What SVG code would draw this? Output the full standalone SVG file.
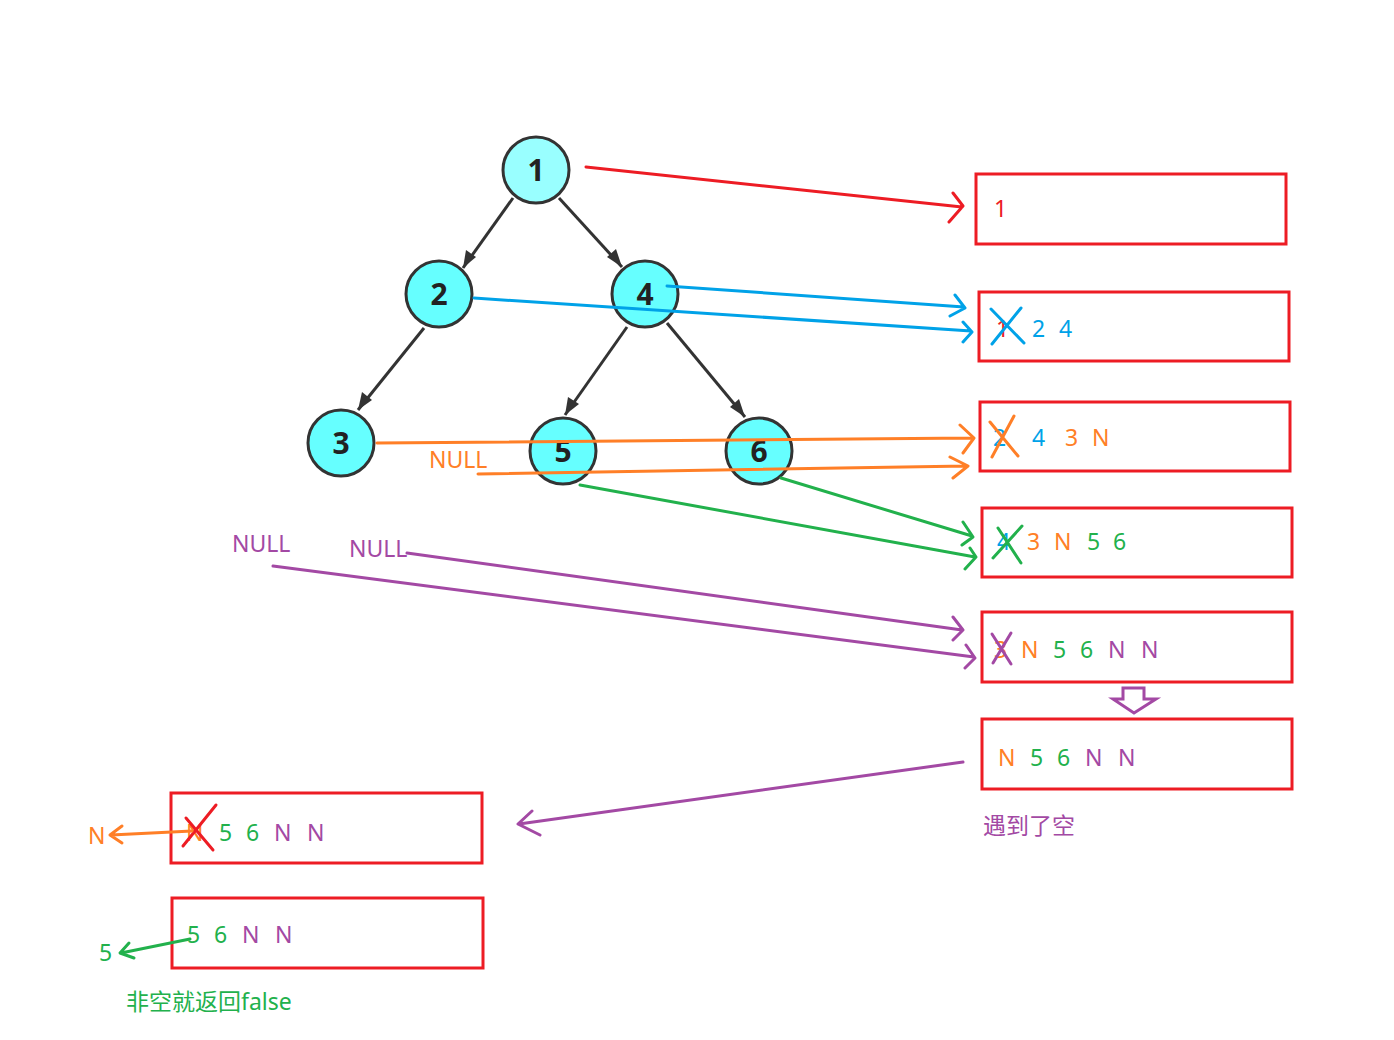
<svg xmlns="http://www.w3.org/2000/svg" width="1394" height="1040" viewBox="0 0 1394 1040">
<style>
.n{fill:#66ffff;stroke:#333;stroke-width:3}
.nt{font-family:"Open Sans","Noto Sans",sans-serif;font-weight:bold;font-size:30px;fill:#222;text-anchor:middle}
.e{stroke:#333;stroke-width:3;fill:none}
.ah{fill:#333}
.box{fill:none;stroke:#ed1c24;stroke-width:3}
.t{font-family:"Noto Sans","Noto Sans CJK SC",sans-serif;font-size:23px}
.r{fill:#ed1c24}.b{fill:#00a2e8}.o{fill:#ff7f27}.g{fill:#22b14c}.p{fill:#a349a4}
.lr{stroke:#ed1c24}.lb{stroke:#00a2e8}.lo{stroke:#ff7f27}.lg{stroke:#22b14c}.lp{stroke:#a349a4}
.c path,.x path{fill:none;stroke-width:3;stroke-linecap:round;stroke-linejoin:round}
</style>
<rect width="1394" height="1040" fill="#fff"/>
<g id="tree-edges">
<path class="e" d="M513,198 L463,268"/>
<path class="ah" d="M463,268 L466,250 L476,257 Z"/>
<path class="e" d="M559,198 L622,267"/>
<path class="ah" d="M622,267 L607,257 L616,249 Z"/>
<path class="e" d="M424,328 L358,410"/>
<path class="ah" d="M358,410 L362,392 L372,400 Z"/>
<path class="e" d="M627,327 L565,415"/>
<path class="ah" d="M565,415 L568,397 L579,404 Z"/>
<path class="e" d="M667,323 L745,417"/>
<path class="ah" d="M745,417 L730,407 L739,399 Z"/>
</g>
<g id="node1"><circle class="n" cx="536" cy="170" r="33" style="fill:#99ffff"/><text class="nt" x="536" y="181">1</text></g>
<g id="node2"><circle class="n" cx="439" cy="294" r="33"/><text class="nt" x="439" y="305">2</text></g>
<g id="node4"><circle class="n" cx="645" cy="294" r="33"/><text class="nt" x="645" y="305">4</text></g>
<g id="node3"><circle class="n" cx="341" cy="443" r="33"/><text class="nt" x="341" y="454">3</text></g>
<g id="node5"><circle class="n" cx="563" cy="451" r="33"/><text class="nt" x="563" y="462">5</text></g>
<g id="node6"><circle class="n" cx="759" cy="451" r="33"/><text class="nt" x="759" y="462">6</text></g>

<g id="box1"><rect class="box" x="976" y="174" width="310" height="70"/>
<text class="t r" x="994" y="217">1</text></g>
<g id="box2"><rect class="box" x="979" y="292" width="310" height="69"/>
<text class="t r" x="996" y="337">1</text><text class="t b" x="1032" y="337">2</text><text class="t b" x="1059" y="337">4</text></g>
<g id="box3"><rect class="box" x="980" y="402" width="310" height="69"/>
<text class="t b" x="993" y="446">2</text><text class="t b" x="1032" y="446">4</text><text class="t o" x="1065" y="446">3</text><text class="t o" x="1092" y="446">N</text></g>
<g id="box4"><rect class="box" x="982" y="508" width="310" height="69"/>
<text class="t b" x="997" y="550">4</text><text class="t o" x="1027" y="550">3</text><text class="t o" x="1054" y="550">N</text><text class="t g" x="1087" y="550">5</text><text class="t g" x="1113" y="550">6</text></g>
<g id="box5"><rect class="box" x="982" y="612" width="310" height="70"/>
<text class="t o" x="994" y="658">3</text><text class="t o" x="1021" y="658">N</text><text class="t g" x="1053" y="658">5</text><text class="t g" x="1080" y="658">6</text><text class="t p" x="1108" y="658">N</text><text class="t p" x="1141" y="658">N</text></g>
<g id="down-arrow"><path d="M1123,688 L1144,688 L1144,699 L1156,699 L1134,713 L1113,699 L1123,699 Z" fill="none" stroke="#a349a4" stroke-width="3" stroke-linejoin="miter"/></g>
<g id="box6"><rect class="box" x="982" y="719" width="310" height="70"/>
<text class="t o" x="998" y="766">N</text><text class="t g" x="1030" y="766">5</text><text class="t g" x="1057" y="766">6</text><text class="t p" x="1085" y="766">N</text><text class="t p" x="1118" y="766">N</text></g>
<text id="note1" class="t p" x="983" y="834">遇到了空</text>
<g id="box7"><rect class="box" x="171" y="793" width="311" height="70"/>
<text class="t o" x="186" y="841">N</text><text class="t g" x="219" y="841">5</text><text class="t g" x="246" y="841">6</text><text class="t p" x="274" y="841">N</text><text class="t p" x="307" y="841">N</text></g>
<g id="box8"><rect class="box" x="172" y="898" width="311" height="70"/>
<text class="t g" x="187" y="943">5</text><text class="t g" x="214" y="943">6</text><text class="t p" x="242" y="943">N</text><text class="t p" x="275" y="943">N</text></g>
<text id="outN" class="t o" x="88" y="844">N</text>
<text id="out5" class="t g" x="99" y="961">5</text>
<text id="note2" class="t g" x="126" y="1010">非空就返回false</text>
<text class="t o" x="429" y="468">NULL</text>
<text class="t p" x="232" y="552">NULL</text>
<text class="t p" x="349" y="557">NULL</text>

<g id="crosses" class="x">
<path class="lb" d="M991,309 L1024,343 M1021,308 L992,344"/>
<path class="lo" d="M990,422 L1018,456 M1014,416 L992,457"/>
<path class="lg" d="M998,528 L1021,563 M1022,526 L993,558"/>
<path class="lp" d="M992,634 L1011,664 M1011,633 L993,663"/>
<path class="lr" d="M186,818 L213,850 M216,805 L183,846"/>
</g>

<g id="connectors" class="c">
<path class="lr" d="M586,167 L962,207 M953,193 L963,206 L949,222"/>
<path class="lb" d="M667,286 L964,307 M955,295 L965,308 L950,316"/>
<path class="lb" d="M474,298 L971,331 M963,322 L972,332 L963,342"/>
<path class="lo" d="M377,443 L973,438 M960,425 L974,438 L963,453"/>
<path class="lo" d="M478,474 L967,466 M950,457 L968,466 L953,478"/>
<path class="lg" d="M781,478 L972,536 M963,522 L973,537 L962,545"/>
<path class="lg" d="M580,485 L975,557 M970,548 L976,557 L965,569"/>
<path class="lp" d="M407,553 L962,630 M953,617 L963,630 L953,640"/>
<path class="lp" d="M273,566 L974,657 M966,645 L975,658 L965,668"/>
<path class="lp" d="M963,762 L519,824 M532,811 L518,824 L540,835"/>
<path class="lo" d="M192,831 L111,835 M122,826 L110,835 L122,843"/>
<path class="lg" d="M190,939 L121,953 M129,943 L120,953 L134,958"/>
</g>
</svg>
